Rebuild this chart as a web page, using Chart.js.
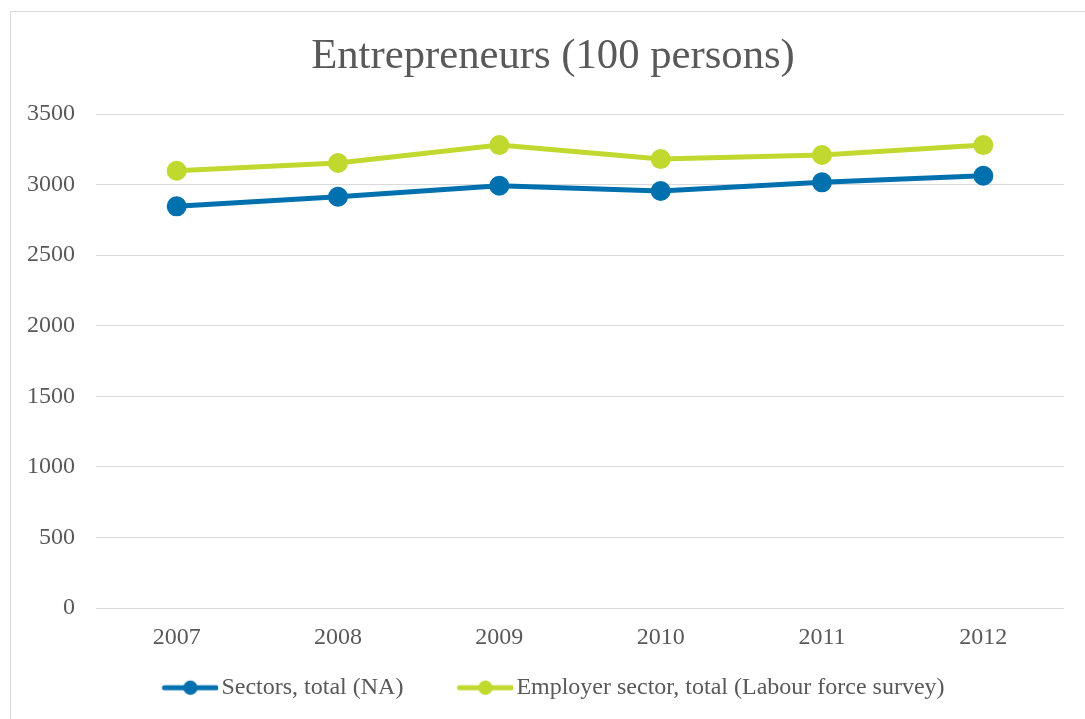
<!DOCTYPE html>
<html>
<head>
<meta charset="utf-8">
<script src="https://cdn.jsdelivr.net/npm/chart.js@4"></script>
<style>
  html, body { margin: 0; padding: 0; background: #fff; overflow: hidden; }
  #frame { position: absolute; left: 10px; top: 11px; width: 1200px; height: 800px; border: 1px solid #d9d9d9; }
  #wrap { position: absolute; left: 0; top: 0; width: 1085px; height: 719px; }
</style>
</head>
<body>
<div id="frame"></div>
<div id="wrap"><canvas id="chart"></canvas></div>
<script>
const years = ["2007", "2008", "2009", "2010", "2011", "2012"];
const sectorsTotal = [2846, 2914, 2992, 2955, 3016, 3063];
const employerSector = [3098, 3153, 3280, 3181, 3210, 3280];

const blue = "#0071ae";
const green = "#c1d82f";
const textColor = "#595959";
const gridColor = "#d9d9d9";

// legend marker: line with a dot, drawn on a small canvas
function legendMarker(color) {
  const c = document.createElement("canvas");
  c.width = 66;
  c.height = 18;
  const g = c.getContext("2d");
  g.strokeStyle = color;
  g.lineWidth = 5;
  g.lineCap = "round";
  g.beginPath();
  g.moveTo(12, 9);
  g.lineTo(64, 9);
  g.stroke();
  g.fillStyle = color;
  g.beginPath();
  g.arc(38, 9, 7.2, 0, Math.PI * 2);
  g.fill();
  return c;
}
const markers = [legendMarker(blue), legendMarker(green)];

// pull the legend up closer to the axis labels
const legendLift = {
  id: "legendLift",
  afterLayout(ch) {
    if (ch.legend) {
      ch.legend.top -= 25.3;
      ch.legend.bottom -= 25.3;
    }
  },
};

const chart = document.querySelector("#chart").getContext("2d");

new Chart(chart, {
  type: "line",
  data: {
    labels: years,
    datasets: [
      {
        label: "Sectors, total (NA)",
        data: sectorsTotal,
        borderColor: blue,
        backgroundColor: blue,
        pointBackgroundColor: blue,
        pointBorderColor: blue,
        borderWidth: 5,
        pointRadius: 7.5,
        pointHoverRadius: 7.5,
        tension: 0,
      },
      {
        label: "Employer sector, total (Labour force survey)",
        data: employerSector,
        borderColor: green,
        backgroundColor: green,
        pointBackgroundColor: green,
        pointBorderColor: green,
        borderWidth: 5,
        pointRadius: 7.5,
        pointHoverRadius: 7.5,
        tension: 0,
      },
    ],
  },
  plugins: [legendLift],
  options: {
    responsive: true,
    maintainAspectRatio: false,
    animation: false,
    layout: { padding: { left: 21, right: 0, top: 0, bottom: -16 } },
    plugins: {
      title: {
        display: true,
        text: "Entrepreneurs (100 persons)",
        color: textColor,
        font: { family: "Liberation Serif", size: 42.7, weight: "normal" },
        padding: { top: 31, bottom: 31.8 },
      },
      legend: {
        position: "bottom",
        labels: {
          usePointStyle: true,
          pointStyleWidth: 48,
          padding: 53,
          color: textColor,
          font: { family: "Liberation Serif", size: 24 },
          generateLabels: (ch) => {
            const items = Chart.defaults.plugins.legend.labels.generateLabels(ch);
            items.forEach((it, i) => {
              it.pointStyle = markers[i];
            });
            return items;
          },
        },
      },
      tooltip: { enabled: false },
    },
    scales: {
      x: {
        offset: true,
        grid: { display: false, drawTicks: false },
        border: { display: false },
        ticks: {
          padding: 15,
          color: textColor,
          font: { family: "Liberation Serif", size: 24 },
        },
        afterFit: (s) => {
          s.height = 40;
        },
      },
      y: {
        min: 0,
        max: 3500,
        grid: { color: gridColor, lineWidth: 1, drawTicks: false },
        border: { display: false },
        ticks: {
          stepSize: 500,
          padding: 21,
          color: textColor,
          font: { family: "Liberation Serif", size: 24 },
          callback: (v) => String(v),
        },
        afterFit: (s) => {
          s.width = 75;
        },
      },
      yRight: {
        position: "right",
        display: true,
        grid: { display: false, drawTicks: false },
        border: { display: false },
        ticks: { display: false },
        afterFit: (s) => {
          s.width = 21;
        },
      },
    },
  },
});
</script>
</body>
</html>
